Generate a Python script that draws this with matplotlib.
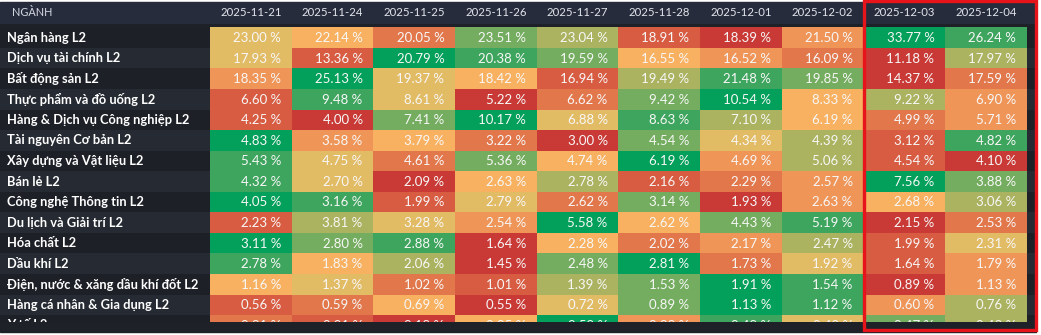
import numpy as np
import matplotlib
matplotlib.use("Agg")
import matplotlib.pyplot as plt
from matplotlib.colors import ListedColormap
from matplotlib.patches import Rectangle
from matplotlib.transforms import blended_transform_factory

plt.rcParams['font.family'] = ['Lato', 'Noto Sans', 'DejaVu Sans']

# data
dates = ["2025-11-21", "2025-11-24", "2025-11-25", "2025-11-26", "2025-11-27",
         "2025-11-28", "2025-12-01", "2025-12-02", "2025-12-03", "2025-12-04"]
sectors = [
    "Ngân hàng L2",
    "Dịch vụ tài chính L2",
    "Bất động sản L2",
    "Thực phẩm và đồ uống L2",
    "Hàng & Dịch vụ Công nghiệp L2",
    "Tài nguyên Cơ bản L2",
    "Xây dựng và Vật liệu L2",
    "Bán lẻ L2",
    "Công nghệ Thông tin L2",
    "Du lịch và Giải trí L2",
    "Hóa chất L2",
    "Dầu khí L2",
    "Điện, nước & xăng dầu khí đốt L2",
    "Hàng cá nhân & Gia dụng L2",
    "Y tế L2",
]
values = [
    [23.00, 22.14, 20.05, 23.51, 23.04, 18.91, 18.39, 21.50, 33.77, 26.24],
    [17.93, 13.36, 20.79, 20.38, 19.59, 16.55, 16.52, 16.09, 11.18, 17.97],
    [18.35, 25.13, 19.37, 18.42, 16.94, 19.49, 21.48, 19.85, 14.37, 17.59],
    [6.60, 9.48, 8.61, 5.22, 6.62, 9.42, 10.54, 8.33, 9.22, 6.90],
    [4.25, 4.00, 7.41, 10.17, 6.88, 8.63, 7.10, 6.19, 4.99, 5.71],
    [4.83, 3.58, 3.79, 3.22, 3.00, 4.54, 4.34, 4.39, 3.12, 4.82],
    [5.43, 4.75, 4.61, 5.36, 4.74, 6.19, 4.69, 5.06, 4.54, 4.10],
    [4.32, 2.70, 2.09, 2.63, 2.78, 2.16, 2.29, 2.57, 7.56, 3.88],
    [4.05, 3.16, 1.99, 2.79, 2.62, 3.14, 1.93, 2.63, 2.68, 3.06],
    [2.23, 3.81, 3.28, 2.54, 5.58, 2.62, 4.43, 5.19, 2.15, 2.53],
    [3.11, 2.80, 2.88, 1.64, 2.28, 2.02, 2.17, 2.47, 1.99, 2.31],
    [2.78, 1.83, 2.06, 1.45, 2.48, 2.81, 1.73, 1.92, 1.64, 1.79],
    [1.16, 1.37, 1.02, 1.01, 1.39, 1.53, 1.91, 1.54, 0.89, 1.13],
    [0.56, 0.59, 0.69, 0.55, 0.72, 0.89, 1.13, 1.12, 0.60, 0.76],
    [0.31, 0.21, 0.18, 0.35, 0.58, 0.33, 0.48, 0.40, 0.47, 0.43],
]

# rank colours, lowest -> highest within each row
palette = ['#c93a36', '#d85c42', '#e2774c', '#ef9558', '#f8b160',
           '#e2bb65', '#abb360', '#74ad5f', '#3ea55e', '#02a05a']

W, H = 1041, 335
ROW_H = 20.56
TOP, BOTTOM = 27.3, 322.3
n_vis = (BOTTOM - TOP) / ROW_H


def frac(x0, y0, x1, y1):
    return [x0 / W, 1 - y1 / H, (x1 - x0) / W, (y1 - y0) / H]


def clean(ax):
    ax.set_xticks([])
    ax.set_yticks([])
    for s in ax.spines.values():
        s.set_visible(False)


vals = np.array(values)
ranks = vals.argsort(axis=1, kind='stable').argsort(axis=1)

fig = plt.figure(figsize=(W / 100, H / 100), dpi=100, facecolor='white')
fig.add_artist(Rectangle((0, 1 - 332 / H), 1036 / W, 330 / H, transform=fig.transFigure,
                         color='#1f2128', zorder=-5))

# row label column + stripes
ax_lab = fig.add_axes(frac(0, TOP, 1035, BOTTOM))
clean(ax_lab)
ax_lab.patch.set_alpha(0)
ax_lab.set_xlim(0, 1)
ax_lab.set_ylim(n_vis, 0)
rows = np.arange(len(sectors))
stripe = ['#1d2027' if i % 2 == 0 else '#262a32' for i in rows]
ax_lab.barh(rows + 0.5, 1, height=1, left=0, color=stripe)
for i, name in enumerate(sectors):
    ax_lab.text(7 / 1035, i + 0.5, name, color='white', fontsize=9.3, fontweight='bold',
                ha='left', va='center', clip_on=True)

# heatmap cells
ax_hm = fig.add_axes(frac(210, TOP, 1026.7, BOTTOM))
clean(ax_hm)
ax_hm.patch.set_alpha(0)
ax_hm.pcolormesh(np.arange(len(dates) + 1), np.arange(len(sectors) + 1), ranks,
                 cmap=ListedColormap(palette), vmin=-0.5, vmax=9.5)
ax_hm.set_xlim(0, len(dates))
ax_hm.set_ylim(n_vis, 0)
for i, row in enumerate(values):
    for j, v in enumerate(row):
        ax_hm.text(j + 0.87, i + 0.52, f"{v:.2f} %", color='#f7f7f7', fontsize=9.5,
                   ha='right', va='center', clip_on=True)

# header band
ax_hd = fig.add_axes(frac(0, 1.7, 1035, 24))
clean(ax_hd)
ax_hd.set_facecolor('#262c3c')
tr = blended_transform_factory(ax_hm.transData, ax_hd.transAxes)
for j, d in enumerate(dates):
    ax_hd.text(j + 0.5, 0.5, d, transform=tr, color='#e1e5ec', fontsize=8.2,
               ha='center', va='center')
ax_hd.text(12 / 1035, 0.5, "NGÀNH", color='#d4d9e1', fontsize=7.8, ha='left', va='center')

# highlight box around the last two days
fig.add_artist(Rectangle((864 / W, 1 - 330 / H), (1035.5 - 864) / W, 329 / H,
                         transform=fig.transFigure, fill=False, ec='#e8141c', lw=2.4, zorder=10))

fig.savefig("out.png", dpi=100, facecolor='white')
